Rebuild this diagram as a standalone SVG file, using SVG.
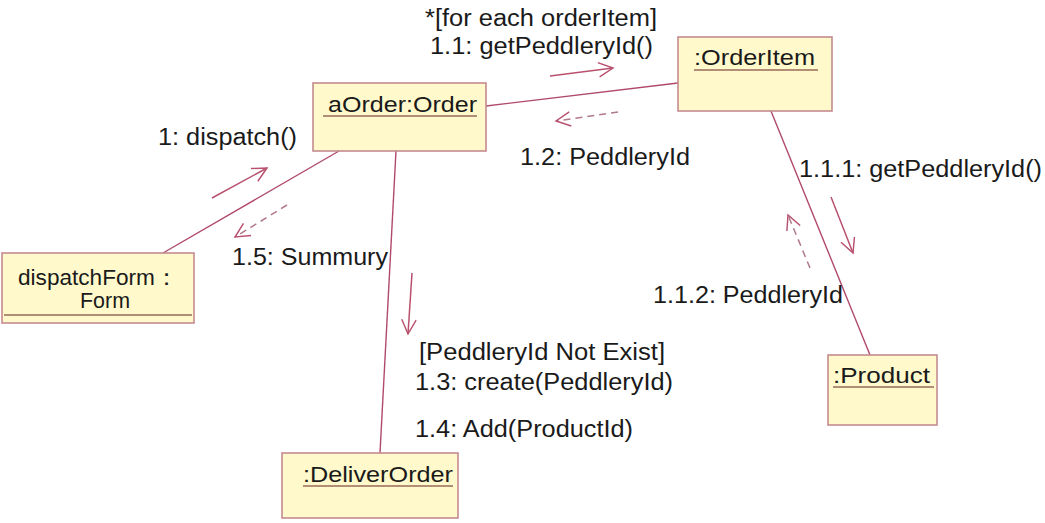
<svg xmlns="http://www.w3.org/2000/svg" width="1045" height="523" viewBox="0 0 1045 523">
  <defs>
    <marker id="open" viewBox="0 0 20 20" refX="18" refY="10" markerWidth="18" markerHeight="18" markerUnits="userSpaceOnUse" orient="auto">
      <path d="M2,2 L18,10 L2,18" fill="none" stroke="#b8506e" stroke-width="1.6"/>
    </marker>
  </defs>
  <style>
    .box { fill: #fff9cc; stroke: #c58a8f; stroke-width: 1.6; }
    .name { font-family: "Liberation Sans", Arial, sans-serif; font-size: 22.5px; fill: #1a1a1a; }
    .ul { stroke: #9a6a5a; stroke-width: 1.4; }
    .link { stroke: #b04a6a; stroke-width: 1.4; fill: none; }
    .msg { stroke: #b8506e; stroke-width: 1.5; fill: none; marker-end: url(#open); }
    .ret { stroke-dasharray: 7 5; stroke: #b07a88; }
    .lbl { font-family: "Liberation Sans", Arial, sans-serif; font-size: 23.5px; fill: #1a1a1a; }
  </style>
  <rect width="1045" height="523" fill="#ffffff"/>

  <!-- links between objects -->
  <g id="links">
    <line class="link" x1="486" y1="106" x2="678" y2="83"/>
    <line class="link" x1="163" y1="253" x2="339" y2="151"/>
    <line class="link" x1="396" y1="151" x2="380" y2="453"/>
    <line class="link" x1="771" y1="111" x2="870" y2="355"/>
  </g>

  <!-- messages -->
  <g id="messages">
    <line class="msg" x1="212" y1="198" x2="267" y2="168"/>
    <line class="msg ret" x1="287" y1="205" x2="235" y2="237"/>
    <line class="msg" x1="550" y1="76" x2="613" y2="68"/>
    <line class="msg ret" x1="618" y1="112" x2="556" y2="121"/>
    <line class="msg" x1="831" y1="197" x2="853" y2="253"/>
    <line class="msg ret" x1="810" y1="268" x2="788" y2="215"/>
    <line class="msg" x1="412" y1="273" x2="408" y2="334"/>
  </g>

  <g id="labels">
    <text class="lbl" x="425" y="26" textLength="232" lengthAdjust="spacingAndGlyphs">*[for each orderItem]</text>
    <text class="lbl" x="430" y="54" textLength="223" lengthAdjust="spacingAndGlyphs">1.1: getPeddleryId()</text>
    <text class="lbl" x="158" y="145" textLength="139" lengthAdjust="spacingAndGlyphs">1: dispatch()</text>
    <text class="lbl" x="520" y="165" textLength="170" lengthAdjust="spacingAndGlyphs">1.2: PeddleryId</text>
    <text class="lbl" x="799" y="177" textLength="243" lengthAdjust="spacingAndGlyphs">1.1.1: getPeddleryId()</text>
    <text class="lbl" x="232" y="265" textLength="156" lengthAdjust="spacingAndGlyphs">1.5: Summury</text>
    <text class="lbl" x="653" y="303" textLength="190" lengthAdjust="spacingAndGlyphs">1.1.2: PeddleryId</text>
    <text class="lbl" x="419" y="360" textLength="246" lengthAdjust="spacingAndGlyphs">[PeddleryId Not Exist]</text>
    <text class="lbl" x="415" y="390" textLength="258" lengthAdjust="spacingAndGlyphs">1.3: create(PeddleryId)</text>
    <text class="lbl" x="415" y="437" textLength="218" lengthAdjust="spacingAndGlyphs">1.4: Add(ProductId)</text>
  </g>

  <g id="aOrder">
    <rect class="box" x="313" y="83" width="173" height="68"/>
    <text class="name" x="328" y="112" textLength="149" lengthAdjust="spacingAndGlyphs">aOrder:Order</text>
    <line class="ul" x1="323" y1="116" x2="477" y2="116"/>
  </g>

  <g id="orderItem">
    <rect class="box" x="678" y="37" width="154" height="74"/>
    <text class="name" x="694" y="65" textLength="121" lengthAdjust="spacingAndGlyphs">:OrderItem</text>
    <line class="ul" x1="694" y1="70" x2="818" y2="70"/>
  </g>

  <g id="dispatchForm">
    <rect class="box" x="2" y="253" width="192" height="70"/>
    <text class="name" x="18" y="285" textLength="160" lengthAdjust="spacingAndGlyphs">dispatchForm：</text>
    <text class="name" x="80" y="308" textLength="50" lengthAdjust="spacingAndGlyphs">Form</text>
    <line class="ul" x1="4" y1="315" x2="192" y2="315"/>
  </g>

  <g id="deliverOrder">
    <rect class="box" x="282" y="453" width="176" height="65"/>
    <text class="name" x="303" y="482" textLength="150" lengthAdjust="spacingAndGlyphs">:DeliverOrder</text>
    <line class="ul" x1="303" y1="486" x2="453" y2="486"/>
  </g>

  <g id="product">
    <rect class="box" x="828" y="355" width="109" height="70"/>
    <text class="name" x="833" y="383" textLength="97" lengthAdjust="spacingAndGlyphs">:Product</text>
    <line class="ul" x1="833" y1="387" x2="934" y2="387"/>
  </g>
</svg>
